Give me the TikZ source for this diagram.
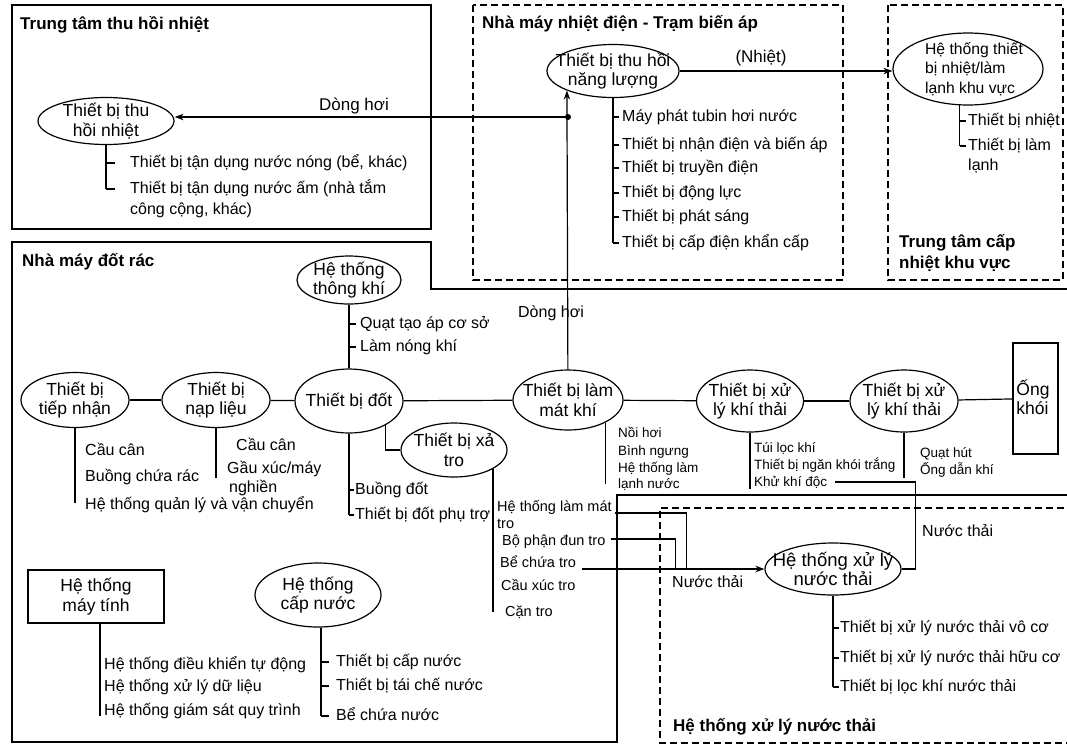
\documentclass[tikz,border=0pt]{standalone}
\usepackage{fontspec}
\setmainfont{Liberation Sans}
\usetikzlibrary{arrows.meta,shapes.geometric}
\tikzset{
  zone/.style={line width=1.8pt},
  dzone/.style={line width=1.8pt,dash pattern=on 7pt off 4pt},
  zonename/.style={anchor=west,inner sep=0pt,text height=12pt,text depth=3pt,font=\bfseries\fontsize{17}{20}\selectfont},
  unit/.style={ellipse,draw,line width=1.2pt,inner sep=0pt},
  unitbox/.style={rectangle,draw,line width=1.2pt,inner sep=0pt},
  unitname/.style={align=center,inner sep=0pt,font=\fontsize{17.5}{19.5}\selectfont},
  part/.style={anchor=west,inner sep=0pt,text height=12pt,text depth=3pt,font=\fontsize{16}{19}\selectfont},
  midpart/.style={part,font=\fontsize{14.5}{17}\selectfont},
  minipart/.style={part,font=\fontsize{13.5}{17}\selectfont},
  flowname/.style={inner sep=0pt,font=\fontsize{17}{19}\selectfont},
  link/.style={line width=1.2pt},
}
\begin{document}
\begin{tikzpicture}[x=1pt,y=-1pt,>={Stealth[length=9pt,width=6.5pt]}]
\useasboundingbox (0,0) rectangle (1067,745);

\draw[zone] (12,5) rectangle (431,229);
\draw[dzone] (473,5) rectangle (843,280);
\draw[dzone] (888,5) rectangle (1063,280);
\draw[zone] (1075,289) -- (431,289) -- (431,242) -- (12,242) -- (12,742) -- (617,742) -- (617,495) -- (1075,495);
\draw[dzone] (1075,508) -- (660,508) -- (660,743) -- (1075,743);

\node[zonename] (z1) at (20,25) {Trung tâm thu hồi nhiệt};
\node[zonename] (z2) at (482,24) {Nhà máy nhiệt điện - Trạm biến áp};
\node[zonename] (z3) at (899,243) {Trung tâm cấp};
\node[zonename] (z3b) at (899,264) {nhiệt khu vực};
\node[zonename] (z4) at (22,262) {Nhà máy đốt rác};
\node[zonename] (z5) at (673,727) {Hệ thống xử lý nước thải};

\node[unit,minimum width=136,minimum height=47] (A) at (106,121) {};
\node[unitname] (At) at (A) {Thiết bị thu\\hồi nhiệt};
\node[unit,minimum width=132,minimum height=53] (B) at (613,71) {};
\node[unitname] (Bt) at (B) {Thiết bị thu hồi\\năng lượng};
\node[unit,minimum width=150,minimum height=72] (C) at (968,69) {};
\node[unitname,align=left,font=\fontsize{15.7}{19.5}\selectfont] (Ct) at (974,69) {Hệ thống thiết\\bị nhiệt/làm\\lạnh khu vực};
\node[unit,minimum width=104,minimum height=48] (G) at (349,280) {};
\node[unitname] (Gt) at (G) {Hệ thống\\thông khí};
\node[unit,minimum width=108,minimum height=55] (D) at (75,400) {};
\node[unitname] (Dt) at (D) {Thiết bị\\tiếp nhận};
\node[unit,minimum width=108,minimum height=55] (E) at (216,400) {};
\node[unitname] (Et) at (E) {Thiết bị\\nạp liệu};
\node[unit,minimum width=108,minimum height=64] (F) at (349,401) {};
\node[unitname] (Ft) at (F) {Thiết bị đốt};
\node[unit,minimum width=106,minimum height=54] (H) at (454,450) {};
\node[unitname] (Ht) at (H) {Thiết bị xả\\tro};
\node[unit,minimum width=110,minimum height=60] (I) at (568,400) {};
\node[unitname] (It) at (I) {Thiết bị làm\\mát khí};
\node[unit,minimum width=107,minimum height=62] (K1) at (750,401) {};
\node[unitname] (K1t) at (K1) {Thiết bị xử\\lý khí thải};
\node[unit,minimum width=108,minimum height=62] (K2) at (904,401) {};
\node[unitname] (K2t) at (K2) {Thiết bị xử\\lý khí thải};
\node[unitbox,minimum width=45,minimum height=111] (L) at (1035.5,398.5) {};
\node[unitname,align=left] (Lt) at (1033,397) {Ống\\khói};
\node[unitbox,minimum width=136,minimum height=53] (M) at (96,596.5) {};
\node[unitname] (Mt) at (M) {Hệ thống\\máy tính};
\node[unit,minimum width=126,minimum height=64] (N) at (318,595) {};
\node[unitname] (Nt) at (N) {Hệ thống\\cấp nước};
\node[unit,minimum width=136,minimum height=52] (J) at (833,569) {};
\node[unitname,font=\fontsize{18.5}{19}\selectfont] (Jt) at (J) {Hệ thống xử lý\\nước thải};

\draw[link] (D) -- (E);
\draw[link] (E) -- (F);
\draw[link] (F) -- (I);
\draw[link] (I) -- (K1);
\draw[link] (K1) -- (K2);
\draw[link] (K2) -- (L);
\draw[link] (G) -- (F);
\draw[link] (F.-34) |- (H.west);

\draw[link,->] (I) -- (B.203);
\coordinate (jct) at (568,117);
\fill (jct) circle (3pt);
\draw[link,->] (jct) -- (jct -| A.east);
\node[flowname] (f1) at (354,106) {Dòng hơi};
\node[flowname,font=\fontsize{16}{19}\selectfont] (f2) at (551,313) {Dòng hơi};
\draw[link,->] (B.east) -- (B.east -| C.west);
\node[flowname] (f3) at (761,58) {(Nhiệt)};

\node[part] (a1) at (130,163) {Thiết bị tận dụng nước nóng (bể, khác)};
\node[part] (a2) at (130,189) {Thiết bị tận dụng nước ấm (nhà tắm};
\node[part] (a3) at (130,210) {công cộng, khác)};
\draw[link] (A.south) -- (A.south |- a2.west);
\foreach \k in {a1,a2} \draw[link] (A.south |- \k.west) -- ++(9,0);

\foreach \k/\y/\s in {1/117/Máy phát tubin hơi nước,2/145/Thiết bị nhận điện và biến áp,3/168/Thiết bị truyền điện,4/193/Thiết bị động lực,5/217/Thiết bị phát sáng,6/243/Thiết bị cấp điện khẩn cấp}
  \node[part] (b\k) at (622,\y) {\s};
\draw[link] (B.south) -- (B.south |- b6.west);
\foreach \k in {1,...,6} \draw[link] (B.south |- b\k.west) -- ++(6,0);

\node[part] (c1) at (968,121) {Thiết bị nhiệt};
\node[part] (c2) at (968,146) {Thiết bị làm};
\node[part] (c3) at (968,166) {lạnh};
\draw[link] (C.257) -- (C.257 |- c2.west);
\foreach \k in {c1,c2} \draw[link] (C.257 |- \k.west) -- ++(6,0);

\node[part] (g1) at (360,324) {Quạt tạo áp cơ sở};
\node[part] (g2) at (360,347) {Làm nóng khí};
\foreach \k in {g1,g2} \draw[link] (G.south |- \k.west) -- ++(7,0);

\node[part] (d1) at (85,451) {Cầu cân};
\node[part] (d2) at (85,477) {Buồng chứa rác};
\node[part] (d3) at (85,505) {Hệ thống quản lý và vận chuyển};
\draw[link] (D.south) -- ++(0,75);

\node[part] (e1) at (236,446) {Cầu cân};
\node[part] (e2) at (227,469) {Gầu xúc/máy};
\node[part] (e3) at (229,488) {nghiền};
\draw[link] (E.south) -- ++(0,50);

\node[part] (f4) at (355,490) {Buồng đốt};
\node[part] (f5) at (355,515) {Thiết bị đốt phụ trợ};
\draw[link] (F.south) -- (F.south |- f5.west);
\foreach \k in {f4,f5} \draw[link] (F.south |- \k.west) -- ++(5,0);

\node[midpart] (h1) at (497,507) {Hệ thống làm mát};
\node[midpart] (h2) at (497,524) {tro};
\node[midpart] (h3) at (502,541) {Bộ phận đun tro};
\node[midpart] (h4) at (500,563) {Bể chứa tro};
\node[midpart] (h5) at (501,586) {Cầu xúc tro};
\node[midpart] (h6) at (505,612) {Cặn tro};
\draw[link] (H.-26) -- (H.-26 |- h6.west);

\node[minipart] (i1) at (618,433) {Nồi hơi};
\node[minipart] (i2) at (618,451) {Bình ngưng};
\node[minipart] (i3) at (618,468) {Hệ thống làm};
\node[minipart] (i4) at (618,484) {lạnh nước};
\draw[link] (I.-31) -- (I.-31 |- i4.west);

\node[minipart] (k1) at (754,448) {Túi lọc khí};
\node[minipart] (k2) at (754,465) {Thiết bị ngăn khói trắng};
\node[minipart] (k3) at (754,482) {Khử khí độc};
\draw[link] (K1.south) -- ++(0,56);

\node[minipart] (q1) at (920,453) {Quạt hút};
\node[minipart] (q2) at (920,470) {Ống dẫn khí};
\draw[link] (K2.south) -- ++(0,45);

\draw[link] ([xshift=3pt,yshift=-6pt]h1.east) -| ([xshift=-78pt]J.west);
\draw[link] ([xshift=5pt,yshift=2pt]h3.east) -| ([xshift=-89pt]J.west);
\draw[link,->] ([xshift=6pt]h4.east |- J.west) -- (J.west);
\node[part] (w1) at (672,583) {Nước thải};
\draw[link] ([xshift=8pt]k3.east) -| ([xshift=14pt]J.east) -- (J.east);
\node[part] (w2) at (922,532) {Nước thải};

\node[part] (j1) at (840,628) {Thiết bị xử lý nước thải vô cơ};
\node[part] (j2) at (840,658) {Thiết bị xử lý nước thải hữu cơ};
\node[part] (j3) at (840,687) {Thiết bị lọc khí nước thải};
\draw[link] (J.south) -- (J.south |- j3.west);
\foreach \k in {j1,j2,j3} \draw[link] (J.south |- \k.west) -- ++(6,0);

\node[part] (m1) at (104,665) {Hệ thống điều khiển tự động};
\node[part] (m2) at (104,687) {Hệ thống xử lý dữ liệu};
\node[part] (m3) at (104,711) {Hệ thống giám sát quy trình};
\draw[link] ([xshift=4pt]M.south) -- ++(0,92);

\node[part] (n1) at (336,662) {Thiết bị cấp nước};
\node[part] (n2) at (336,686) {Thiết bị tái chế nước};
\node[part] (n3) at (336,716) {Bể chứa nước};
\draw[link] ([xshift=3pt]N.south) -- ([xshift=3pt]N.south |- n3.west);
\foreach \k in {n1,n2,n3} \draw[link] ([xshift=3pt]N.south |- \k.west) -- ++(8,0);
\end{tikzpicture}
\end{document}
